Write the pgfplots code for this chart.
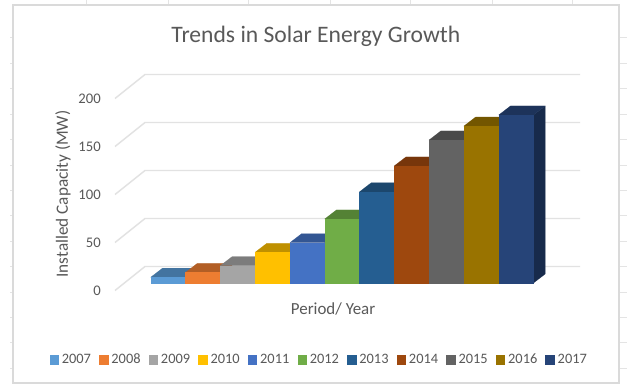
\documentclass[border=0pt]{standalone}
\usepackage{pgfplots}
\pgfplotsset{compat=1.18}
\usepackage{fontspec}
\setmainfont{Carlito}
\definecolor{txt}{HTML}{595959}
\definecolor{wall}{HTML}{E2E2E2}
\definecolor{frame}{HTML}{DADADA}
\definecolor{sheet}{HTML}{E4E4E4}
% front, top and side shades for each year
\definecolor{f07}{HTML}{5B9BD5}\definecolor{t07}{HTML}{4374A0}
\definecolor{f08}{HTML}{ED7D31}\definecolor{t08}{HTML}{B25E25}
\definecolor{f09}{HTML}{A5A5A5}\definecolor{t09}{HTML}{7C7C7C}
\definecolor{f10}{HTML}{FFC000}\definecolor{t10}{HTML}{BF9000}
\definecolor{f11}{HTML}{4472C4}\definecolor{t11}{HTML}{335693}
\definecolor{f12}{HTML}{70AD47}\definecolor{t12}{HTML}{548235}
\definecolor{f13}{HTML}{255E91}\definecolor{t13}{HTML}{1C476D}
\definecolor{f14}{HTML}{9E480E}\definecolor{t14}{HTML}{77360B}
\definecolor{f15}{HTML}{636363}\definecolor{t15}{HTML}{4A4A4A}
\definecolor{f16}{HTML}{997300}\definecolor{t16}{HTML}{735600}
\definecolor{f17}{HTML}{264478}\definecolor{t17}{HTML}{1D335A}
\definecolor{s17}{HTML}{172A4B}
% wall line for one tick value: side wall, then back wall
\newcommand{\wallline}[1]{%
  \addplot[wall,line width=1.1pt,forget plot] coordinates
    {(2005.474,#1) (2006.336,#1+25) (2018.836,#1+25)};}
% one prism: year, value, front colour, top colour, side colour
\newcommand{\solarbar}[5]{%
  \addplot[draw=#5,fill=#5,line width=0.1pt,forget plot] coordinates
    {(#1+0.5,7.81) (#1+0.836,17.19) (#1+0.836,17.19+#2) (#1+0.5,7.81+#2)} -- cycle;
  \addplot[draw=#4,fill=#4,line width=0.1pt,forget plot] coordinates
    {(#1-0.5,7.81+#2) (#1+0.5,7.81+#2) (#1+0.836,17.19+#2) (#1-0.164,17.19+#2)} -- cycle;
  \addplot[draw=#3,fill=#3,line width=0.1pt,forget plot] coordinates
    {(#1-0.5,7.81) (#1+0.5,7.81) (#1+0.5,7.81+#2) (#1-0.5,7.81+#2)} -- cycle;}
\pgfplotsset{
  swatch/.style={legend image code/.code={%
    \fill[##1] (0pt,-3.2pt) rectangle (6.4pt,3.2pt);}},
}
\begin{document}
\begin{tikzpicture}
% worksheet behind the chart: 1 unit = 1 px
\begin{axis}[name=sheetaxis,at={(0,0)},anchor=south west,scale only axis,
  width=470.25pt,height=288pt,xmin=0,xmax=627,ymin=0,ymax=384,y dir=reverse,
  hide axis,clip=true]
\addplot[fill=white,draw=none] coordinates {(0,0)(627,0)(627,384)(0,384)} -- cycle;
\pgfplotsinvokeforeach{37.7,63.3,88.3,114,139,165,190,215.7,241.7,266.7,292.3,317.3,342.7,368.3}{
  \addplot[sheet,line width=0.7pt] coordinates {(10,#1)(13,#1)};
  \addplot[sheet,line width=0.7pt] coordinates {(619,#1)(627,#1)};
}
\pgfplotsinvokeforeach{86.7,168,248.7,330,410.7,492,572.7}{
  \addplot[sheet,line width=0.7pt] coordinates {(#1,0)(#1,5)};
}
\addplot[frame,line width=1.4pt,fill=white] coordinates {(13,5)(619.3,5)(619.3,382.7)(13,382.7)} -- cycle;
\end{axis}
% the chart: x in years, y in MW on the front plane of the box
\begin{axis}[at={(86.25pt,70.125pt)},anchor=south west,scale only axis,
  width=348.75pt,height=162pt,
  xmin=2005.474,xmax=2018.836,ymin=0,ymax=225,clip=false,
  axis line style={draw=none},major tick length=0pt,
  xtick=\empty,ytick={0,50,100,150,200},
  /pgf/number format/assume math mode=true,
  yticklabel style={font=\fontsize{11}{13}\selectfont,text=txt,inner sep=0pt,xshift=-10.5pt,yshift=-0.5pt},
  title={Trends in Solar Energy Growth},
  every axis title shift=0pt,
  title style={font=\fontsize{17.7}{20}\selectfont,text=txt,at={(axis description cs:0.432,1.178)},anchor=center},
  xlabel={Period/ Year},
  xlabel style={font=\fontsize{12.7}{15}\selectfont,text=txt,at={(axis description cs:0.469,-0.0856)},anchor=center},
  ylabel={Installed Capacity (MW)},
  every axis y label/.style={font=\fontsize{12.9}{15}\selectfont,text=txt,at={(axis description cs:-0.112,0.447)},rotate=90,anchor=center},
  legend columns=-1,
  legend style={at={(axis description cs:0.4385,-0.3195)},anchor=center,draw=none,fill=none,
    font=\fontsize{10.8}{12}\selectfont,text=txt,
    /tikz/every even column/.append style={column sep=5.1pt},
    /tikz/every odd column/.append style={column sep=1.4pt},
    inner sep=0pt,nodes={inner sep=1pt}},
]
\wallline{0}\wallline{50}\wallline{100}\wallline{150}\wallline{200}
\solarbar{2007}{6}{f07}{t07}{t07}
\solarbar{2008}{11}{f08}{t08}{t08}
\solarbar{2009}{18}{f09}{t09}{t09}
\solarbar{2010}{32}{f10}{t10}{t10}
\solarbar{2011}{42}{f11}{t11}{t11}
\solarbar{2012}{66.7}{f12}{t12}{t12}
\solarbar{2013}{95}{f13}{t13}{t13}
\solarbar{2014}{122}{f14}{t14}{t14}
\solarbar{2015}{149}{f15}{t15}{t15}
\solarbar{2016}{163.5}{f16}{t16}{t16}
\solarbar{2017}{175}{f17}{t17}{s17}
\addlegendimage{swatch,f07}\addlegendentry{2007}
\addlegendimage{swatch,f08}\addlegendentry{2008}
\addlegendimage{swatch,f09}\addlegendentry{2009}
\addlegendimage{swatch,f10}\addlegendentry{2010}
\addlegendimage{swatch,f11}\addlegendentry{2011}
\addlegendimage{swatch,f12}\addlegendentry{2012}
\addlegendimage{swatch,f13}\addlegendentry{2013}
\addlegendimage{swatch,f14}\addlegendentry{2014}
\addlegendimage{swatch,f15}\addlegendentry{2015}
\addlegendimage{swatch,f16}\addlegendentry{2016}
\addlegendimage{swatch,f17}\addlegendentry{2017}
\end{axis}
\end{tikzpicture}
\end{document}
